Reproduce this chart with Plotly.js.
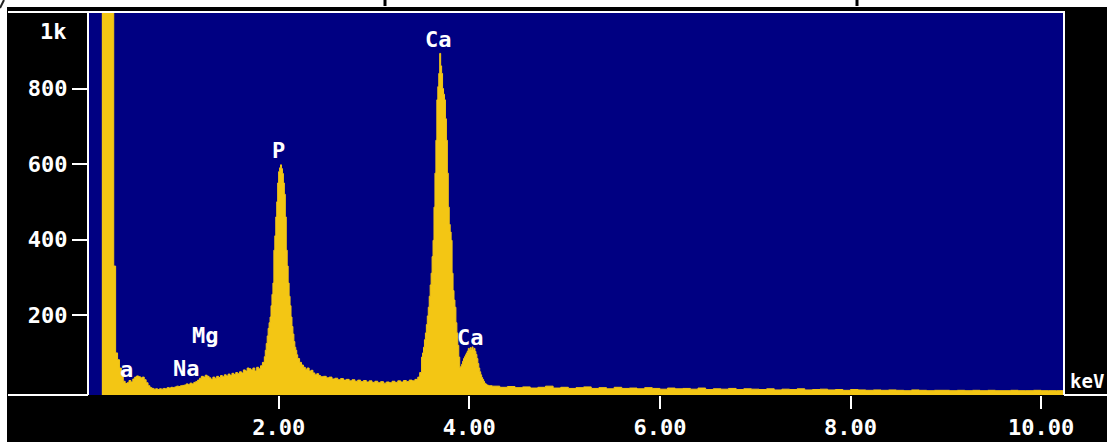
<!DOCTYPE html>
<html>
<head>
<meta charset="utf-8">
<script src="https://cdn.plot.ly/plotly-3.0.1.min.js"></script>
<style>
  html, body { margin: 0; padding: 0; background: #000; }
  #chart { width: 1107px; height: 442px; }
</style>
</head>
<body>
<div id="chart"></div>
<script>
// ---- Data (energy in keV, counts) ----
const lowKeV = [0.145,0.27,0.29,0.31,0.33,0.35,0.37,0.39,0.41,0.43,0.45,0.47,0.49,0.51,0.53,0.55,0.57,0.59,0.61,0.63,
  0.65,0.67,0.69,0.71,0.73,0.75,0.77,0.79,0.81,0.83,0.85,0.87,0.89,0.91,0.93,0.95,0.97,0.99,1.01,1.03,
  1.05,1.07,1.09,1.11,1.13,1.15,1.17,1.19,1.21,1.23,1.25,1.27,1.29,1.31,1.33,1.35,1.37,1.39,1.41,1.43,
  1.45,1.47,1.49,1.51,1.53,1.55,1.57,1.59,1.61,1.63,1.65,1.67,1.69,1.71,1.73,1.75,1.77,1.79,1.81,1.83];
const lowCounts = [3000,330,100,82,60,40,25,19,21,27,23,31,36,39,37,34,36,29,21,13,
  8,6,4,5,3,5,4,6,5,8,7,9,8,10,12,11,13,14,15,18,
  16,20,18,22,24,28,33,38,36,41,38,34,30,36,33,38,35,40,37,42,
  39,44,40,46,43,48,45,50,47,55,52,60,58,55,60,52,62,58,66,75];

const pKeV = [1.85,1.86,1.87,1.88,1.89,1.90,1.91,1.92,1.93,1.94,1.95,1.96,1.97,1.98,1.99,2.00,2.01,2.02,2.03,2.04,
  2.05,2.06,2.07,2.08,2.09,2.10,2.11,2.12,2.13,2.14,2.15,2.16,2.17,2.18,2.19,2.20,2.22,2.24,2.26,2.28,
  2.30,2.32,2.34,2.36,2.38,2.40,2.42,2.44];
const pCounts = [90,107,125,145,165,180,195,225,255,285,372,410,460,500,550,580,590,598,588,575,
  550,520,460,372,330,285,250,225,195,170,150,130,115,107,95,85,75,68,62,57,
  60,52,54,47,42,45,40,37];

const midKeV = [2.47,2.50,2.53,2.56,2.59,2.62,2.65,2.68,2.71,2.74,2.77,2.80,2.83,2.86,2.89,2.92,2.95,2.98,3.01,3.04,
  3.07,3.10,3.13,3.16,3.19,3.22,3.25,3.28,3.31,3.34,3.37,3.40];
const midCounts = [38,34,36,31,33,29,32,28,30,26,29,25,28,24,27,23,26,22,25,21,
  24,20,23,21,25,22,26,23,27,24,28,26];

const caKeV = [3.43,3.44,3.46,3.48,3.50,3.51,3.52,3.53,3.54,3.55,3.56,3.57,3.58,3.59,3.60,3.61,3.62,3.63,3.64,3.65,
  3.66,3.67,3.68,3.69,3.70,3.71,3.72,3.73,3.74,3.75,3.76,3.77,3.78,3.79,3.80,3.81,3.82,3.83,3.84,3.85,
  3.86,3.87,3.88,3.89,3.90,3.91,3.92,3.93,3.94,3.95,3.96,3.97,3.98,3.99,4.00,4.01,4.02,4.03,4.04,4.05,
  4.06,4.07,4.08,4.09,4.10,4.11,4.12,4.13,4.14,4.15,4.16,4.17,4.18,4.20];
const caCounts = [30,30,36,48,89,100,115,135,153,175,198,221,250,280,311,355,398,486,576,663,
  770,805,840,893,860,840,800,785,770,720,663,576,486,440,420,398,311,265,240,221,
  180,153,120,89,60,64,70,78,85,90,95,100,105,112,108,114,110,116,108,112,
  104,96,85,72,60,50,42,35,30,25,20,18,15,13];

const tailKeV = [4.24,4.32,4.40,4.48,4.56,4.64,4.72,4.80,4.88,4.96,5.04,5.12,5.20,5.28,5.36,5.44,5.52,5.60,5.68,5.76,
  5.84,5.92,6.00,6.08,6.16,6.24,6.32,6.40,6.48,6.56,6.64,6.72,6.80,6.88,6.96,7.04,7.12,7.20,7.28,7.36,
  7.44,7.52,7.60,7.68,7.76,7.84,7.92,8.00,8.08,8.16,8.24,8.32,8.40,8.48,8.56,8.64,8.72,8.80,8.88,8.96,
  9.04,9.12,9.20,9.28,9.36,9.44,9.52,9.60,9.68,9.76,9.84,9.92,10.00,10.08,10.16,10.24];
const tailCounts = [12,9,11,8,10,7,9,12,7,9,6,8,10,6,8,5,9,6,7,5,
  8,6,4,7,5,6,4,7,3,5,4,6,3,5,4,3,5,2,4,3,
  5,2,3,4,2,3,1,3,2,1,2,1,2,1,0,2,1,0,1,1,
  0,1,0,1,0,1,0,0,1,0,0,1,0,0,0,0];

const xTickVals = [2, 4, 6, 8, 10];
const xTickText = ['2.00', '4.00', '6.00', '8.00', '10.00'];
const yTickVals = [200, 400, 600, 800];
const yTickText = ['200', '400', '600', '800'];

const peakLabels = ['a', 'Na', 'Mg', 'P', 'Ca', 'Ca'];
const peakLabelKeV = [0.40, 1.03, 1.23, 2.00, 3.68, 4.01];
const peakLabelCounts = [57, 60, 145, 637, 931, 142];

// ---- Layout geometry ----
const W = 1107, H = 442;
const M = { l: 88, r: 43, t: 13, b: 47 };
const PW = W - M.l - M.r, PH = H - M.t - M.b;
const X_RANGE = [0, 10.24];
const Y_RANGE = [-11.4, 1000];
const px = v => (v - M.l) / PW;
const py = v => (H - M.b - v) / PH;

const FONT = 'DejaVu Sans Mono, Liberation Mono, monospace';
const YELLOW = '#f3c614';
const BLUE = '#000082';

const energy = [].concat(lowKeV, pKeV, midKeV, caKeV, tailKeV);
const counts = [].concat(lowCounts, pCounts, midCounts, caCounts, tailCounts);
const base = energy.map(() => Y_RANGE[0]);

const traces = [
  { x: energy, y: base, type: 'scatter', mode: 'lines', line: { width: 0, shape: 'hv' },
    hoverinfo: 'skip', showlegend: false },
  { x: energy, y: counts, type: 'scatter', mode: 'lines', fill: 'tonexty',
    fillcolor: YELLOW, line: { color: YELLOW, width: 1, shape: 'hv' }, showlegend: false }
];

function line(x0, y0, x1, y1, color, width) {
  return { type: 'line', xref: 'paper', yref: 'paper', x0: px(x0), y0: py(y0), x1: px(x1), y1: py(y1),
    line: { color: color, width: width }, layer: 'above' };
}
function rect(x0, y0, x1, y1, color) {
  return { type: 'rect', xref: 'paper', yref: 'paper', x0: px(x0), y0: py(y0), x1: px(x1), y1: py(y1),
    fillcolor: color, line: { width: 0 }, layer: 'above' };
}

const shapes = [
  rect(0, 0, W, 7, '#ffffff'),
  rect(0, 0, 7, H, '#ffffff'),
  line(385, 0, 385, 6, '#000000', 3),
  line(857, 0, 857, 6, '#000000', 3),
  line(0, 8, 4, 0, '#222222', 2),
  line(8, 12, 1065, 12, '#ffffff', 2),
  line(88, 12, 88, 395, '#ffffff', 2),
  line(1064, 12, 1064, 395, '#ffffff', 2),
  line(8, 395, 88, 395, '#ffffff', 2),
  line(1064, 395, W, 395, '#ffffff', 2)
];

const annotations = peakLabels.map((t, i) => ({
  x: peakLabelKeV[i], y: peakLabelCounts[i], xref: 'x', yref: 'y', text: t, showarrow: false,
  font: { family: FONT, size: 22, color: '#ffffff', weight: 'bold' }, xanchor: 'center', yanchor: 'middle'
}));
annotations.push({ x: px(53), y: py(32), xref: 'paper', yref: 'paper', text: '1k', showarrow: false,
  font: { family: FONT, size: 22, color: '#ffffff', weight: 'bold' }, xanchor: 'center', yanchor: 'middle' });
annotations.push({ x: px(1106), y: py(381), xref: 'paper', yref: 'paper', text: 'keV', showarrow: false,
  font: { family: FONT, size: 19, color: '#ffffff', weight: 'bold' }, xanchor: 'right', yanchor: 'middle' });

const layout = {
  width: W, height: H, margin: M,
  paper_bgcolor: '#000000', plot_bgcolor: BLUE,
  showlegend: false,
  font: { family: FONT, size: 22, color: '#ffffff', weight: 'bold' },
  xaxis: {
    range: X_RANGE, tickvals: xTickVals, ticktext: xTickText,
    ticks: 'outside', ticklen: 13, tickwidth: 2, tickcolor: '#ffffff',
    showgrid: false, zeroline: false, showline: false, fixedrange: true,
    tickfont: { family: FONT, size: 22, color: '#ffffff', weight: 'bold' }
  },
  yaxis: {
    range: Y_RANGE, tickvals: yTickVals, ticktext: yTickText,
    ticks: 'outside', ticklen: 15, tickwidth: 2, tickcolor: '#ffffff',
    showgrid: false, zeroline: false, showline: false, fixedrange: true,
    tickfont: { family: FONT, size: 22, color: '#ffffff', weight: 'bold' }
  },
  shapes: shapes,
  annotations: annotations
};

Plotly.newPlot('chart', traces, layout, { displayModeBar: false, staticPlot: true });
</script>
</body>
</html>
